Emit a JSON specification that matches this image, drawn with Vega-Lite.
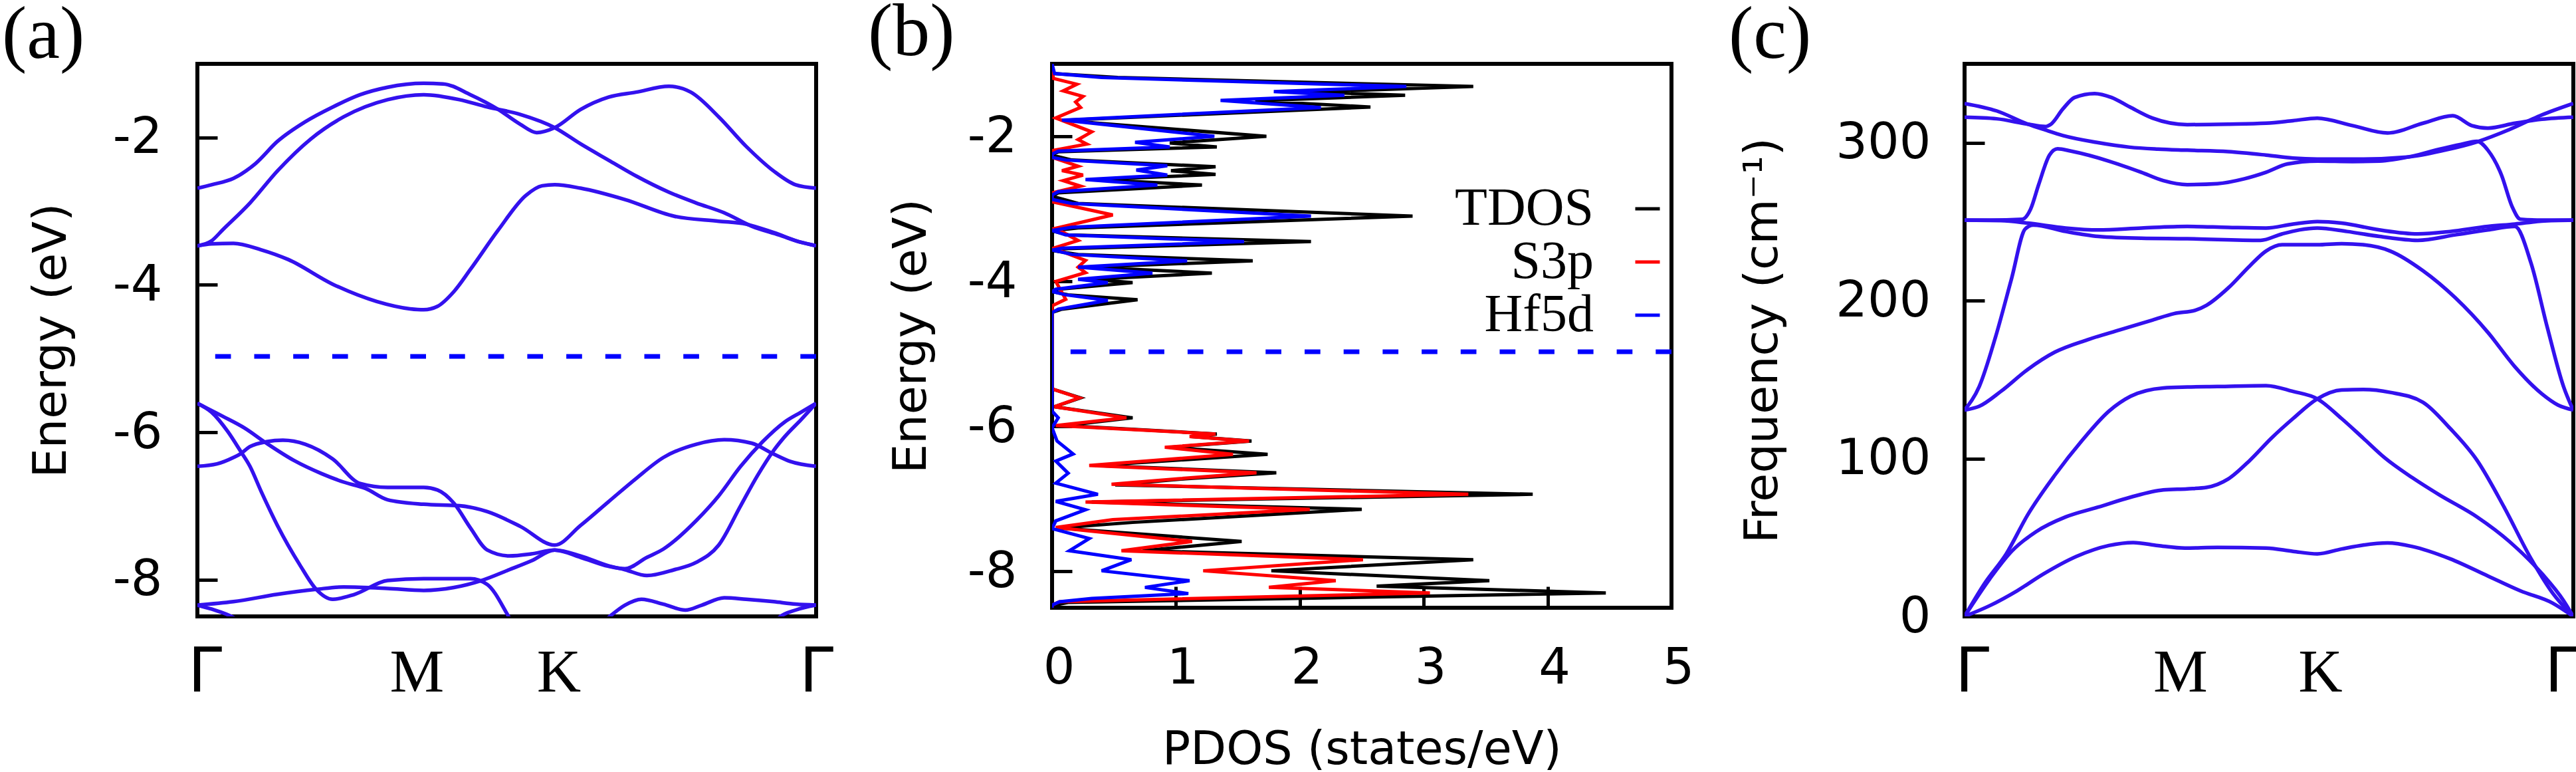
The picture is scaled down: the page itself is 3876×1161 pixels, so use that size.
{
"$schema": "https://vega.github.io/schema/vega-lite/v6.json",
"padding": {"top": -10, "left": 0, "right": 0, "bottom": 0},
"background": "white",
"spacing": 46,
"bounds": "full",
"resolve": {"scale": {"color": "independent"}, "legend": {"color": "independent"}},
"config": {
  "view": {"stroke": "black", "strokeWidth": 6},
  "axis": {"domain": false, "grid": false, "labelFont": "DejaVu Sans", "labelFontSize": 75, "labelColor": "black", "tickColor": "black", "tickWidth": 5, "titleFont": "DejaVu Sans", "titleFontSize": 70, "titleFontWeight": "normal", "titleColor": "black", "labelFlush": false, "labelOverlap": false},
  "title": {"font": "Liberation Serif", "fontSize": 112, "fontWeight": "normal", "anchor": "start", "frame": "group", "color": "black", "baseline": "alphabetic"}
},
"datasets": {
  "fermi": [{"E": -4.97}],
  "bands": [
{"b":"CA","k":0,"E":-2.688},{"b":"CA","k":0.036,"E":-2.641},{"b":"CA","k":0.092,"E":-2.555},{"b":"CA","k":0.148,"E":-2.354},{"b":"CA","k":0.204,"E":-2.053},{"b":"CA","k":0.275,"E":-1.786},{"b":"CA","k":0.345,"E":-1.586},{"b":"CA","k":0.415,"E":-1.419},{"b":"CA","k":0.485,"E":-1.318},{"b":"CA","k":0.577,"E":-1.265},{"b":"CA","k":0.626,"E":-1.272},{"b":"CA","k":0.696,"E":-1.419},{"b":"CA","k":0.767,"E":-1.619},{"b":"CA","k":0.823,"E":-1.82},{"b":"CA","k":0.865,"E":-1.933},{"b":"CA","k":0.911,"E":-1.866},{"b":"CA","k":0.977,"E":-1.619},{"b":"CA","k":1.048,"E":-1.452},{"b":"CA","k":1.118,"E":-1.385},{"b":"CA","k":1.202,"E":-1.305},{"b":"CA","k":1.258,"E":-1.385},{"b":"CA","k":1.329,"E":-1.719},{"b":"CA","k":1.399,"E":-2.12},{"b":"CA","k":1.469,"E":-2.454},{"b":"CA","k":1.525,"E":-2.641},{"b":"CA","k":1.577,"E":-2.688},
{"b":"CB","k":0,"E":-3.47},{"b":"CB","k":0.036,"E":-3.403},{"b":"CB","k":0.064,"E":-3.256},{"b":"CB","k":0.134,"E":-2.889},{"b":"CB","k":0.204,"E":-2.454},{"b":"CB","k":0.289,"E":-2.02},{"b":"CB","k":0.373,"E":-1.719},{"b":"CB","k":0.485,"E":-1.486},{"b":"CB","k":0.577,"E":-1.419},{"b":"CB","k":0.668,"E":-1.486},{"b":"CB","k":0.739,"E":-1.586},{"b":"CB","k":0.823,"E":-1.686},{"b":"CB","k":0.911,"E":-1.866},{"b":"CB","k":0.977,"E":-2.087},{"b":"CB","k":1.048,"E":-2.307},{"b":"CB","k":1.118,"E":-2.521},{"b":"CB","k":1.202,"E":-2.742},{"b":"CB","k":1.272,"E":-2.889},{"b":"CB","k":1.343,"E":-3.022},{"b":"CB","k":1.413,"E":-3.203},{"b":"CB","k":1.483,"E":-3.323},{"b":"CB","k":1.539,"E":-3.423},{"b":"CB","k":1.577,"E":-3.47},
{"b":"C1","k":0,"E":-3.47},{"b":"C1","k":0.036,"E":-3.443},{"b":"C1","k":0.092,"E":-3.436},{"b":"C1","k":0.162,"E":-3.523},{"b":"C1","k":0.232,"E":-3.657},{"b":"C1","k":0.345,"E":-3.991},{"b":"C1","k":0.457,"E":-4.225},{"b":"C1","k":0.542,"E":-4.325},{"b":"C1","k":0.577,"E":-4.338},{"b":"C1","k":0.612,"E":-4.292},{"b":"C1","k":0.654,"E":-4.091},{"b":"C1","k":0.696,"E":-3.791},{"b":"C1","k":0.767,"E":-3.256},{"b":"C1","k":0.837,"E":-2.788},{"b":"C1","k":0.879,"E":-2.655},{"b":"C1","k":0.911,"E":-2.641},{"b":"C1","k":0.977,"E":-2.688},{"b":"C1","k":1.09,"E":-2.842},{"b":"C1","k":1.216,"E":-3.069},{"b":"C1","k":1.329,"E":-3.136},{"b":"C1","k":1.399,"E":-3.176},{"b":"C1","k":1.469,"E":-3.29},{"b":"C1","k":1.539,"E":-3.423},{"b":"C1","k":1.577,"E":-3.47},
{"b":"V1","k":0,"E":-5.608},{"b":"V1","k":0.036,"E":-5.728},{"b":"V1","k":0.078,"E":-5.995},{"b":"V1","k":0.109,"E":-6.249},{"b":"V1","k":0.134,"E":-6.463},{"b":"V1","k":0.162,"E":-6.797},{"b":"V1","k":0.204,"E":-7.265},{"b":"V1","k":0.261,"E":-7.799},{"b":"V1","k":0.303,"E":-8.133},{"b":"V1","k":0.345,"E":-8.267},{"b":"V1","k":0.401,"E":-8.2},{"b":"V1","k":0.485,"E":-8.013},{"b":"V1","k":0.577,"E":-7.987},{"b":"V1","k":0.696,"E":-7.987},{"b":"V1","k":0.739,"E":-8.067},{"b":"V1","k":0.795,"E":-8.514},{"b":"V1","k":0.816,"E":-8.701},
{"b":"V2","k":0,"E":-6.463},{"b":"V2","k":0.05,"E":-6.43},{"b":"V2","k":0.092,"E":-6.343},{"b":"V2","k":0.109,"E":-6.296},{"b":"V2","k":0.134,"E":-6.196},{"b":"V2","k":0.176,"E":-6.129},{"b":"V2","k":0.218,"E":-6.109},{"b":"V2","k":0.275,"E":-6.163},{"b":"V2","k":0.345,"E":-6.363},{"b":"V2","k":0.415,"E":-6.697},{"b":"V2","k":0.485,"E":-6.75},{"b":"V2","k":0.577,"E":-6.75},{"b":"V2","k":0.612,"E":-6.784},{"b":"V2","k":0.654,"E":-6.964},{"b":"V2","k":0.696,"E":-7.298},{"b":"V2","k":0.739,"E":-7.599},{"b":"V2","k":0.795,"E":-7.679},{"b":"V2","k":0.851,"E":-7.652},{"b":"V2","k":0.911,"E":-7.599},{"b":"V2","k":0.977,"E":-7.679},{"b":"V2","k":1.048,"E":-7.813},{"b":"V2","k":1.09,"E":-7.866},{"b":"V2","k":1.146,"E":-7.946},{"b":"V2","k":1.216,"E":-7.866},{"b":"V2","k":1.272,"E":-7.766},{"b":"V2","k":1.329,"E":-7.532},{"b":"V2","k":1.385,"E":-6.998},{"b":"V2","k":1.427,"E":-6.597},{"b":"V2","k":1.469,"E":-6.249},{"b":"V2","k":1.497,"E":-6.062},{"b":"V2","k":1.539,"E":-5.829},{"b":"V2","k":1.577,"E":-5.608},
{"b":"V3","k":0,"E":-5.608},{"b":"V3","k":0.064,"E":-5.782},{"b":"V3","k":0.12,"E":-5.942},{"b":"V3","k":0.176,"E":-6.149},{"b":"V3","k":0.246,"E":-6.383},{"b":"V3","k":0.317,"E":-6.563},{"b":"V3","k":0.373,"E":-6.677},{"b":"V3","k":0.429,"E":-6.764},{"b":"V3","k":0.485,"E":-6.917},{"b":"V3","k":0.577,"E":-6.978},{"b":"V3","k":0.668,"E":-6.998},{"b":"V3","k":0.739,"E":-7.078},{"b":"V3","k":0.823,"E":-7.278},{"b":"V3","k":0.911,"E":-7.532},{"b":"V3","k":0.977,"E":-7.265},{"b":"V3","k":1.048,"E":-6.944},{"b":"V3","k":1.118,"E":-6.63},{"b":"V3","k":1.188,"E":-6.343},{"b":"V3","k":1.272,"E":-6.163},{"b":"V3","k":1.343,"E":-6.102},{"b":"V3","k":1.413,"E":-6.149},{"b":"V3","k":1.469,"E":-6.296},{"b":"V3","k":1.511,"E":-6.396},{"b":"V3","k":1.577,"E":-6.463},
{"b":"V4","k":0,"E":-8.347},{"b":"V4","k":0.092,"E":-8.3},{"b":"V4","k":0.204,"E":-8.2},{"b":"V4","k":0.303,"E":-8.133},{"b":"V4","k":0.373,"E":-8.1},{"b":"V4","k":0.485,"E":-8.12},{"b":"V4","k":0.577,"E":-8.147},{"b":"V4","k":0.654,"E":-8.107},{"b":"V4","k":0.724,"E":-8.013},{"b":"V4","k":0.795,"E":-7.866},{"b":"V4","k":0.851,"E":-7.746},{"b":"V4","k":0.911,"E":-7.599},{"b":"V4","k":0.977,"E":-7.699},{"b":"V4","k":1.048,"E":-7.82},{"b":"V4","k":1.09,"E":-7.853},{"b":"V4","k":1.146,"E":-7.699},{"b":"V4","k":1.188,"E":-7.586},{"b":"V4","k":1.272,"E":-7.198},{"b":"V4","k":1.329,"E":-6.864},{"b":"V4","k":1.385,"E":-6.463},{"b":"V4","k":1.441,"E":-6.129},{"b":"V4","k":1.497,"E":-5.862},{"b":"V4","k":1.539,"E":-5.728},{"b":"V4","k":1.577,"E":-5.608},
{"b":"V5","k":0,"E":-8.347},{"b":"V5","k":0.036,"E":-8.4},{"b":"V5","k":0.092,"E":-8.514},{"b":"V5","k":0.127,"E":-8.634},
{"b":"V6","k":1.021,"E":-8.634},{"b":"V6","k":1.048,"E":-8.514},{"b":"V6","k":1.09,"E":-8.347},{"b":"V6","k":1.132,"E":-8.267},{"b":"V6","k":1.188,"E":-8.334},{"b":"V6","k":1.244,"E":-8.414},{"b":"V6","k":1.286,"E":-8.347},{"b":"V6","k":1.343,"E":-8.247},{"b":"V6","k":1.399,"E":-8.267},{"b":"V6","k":1.469,"E":-8.3},{"b":"V6","k":1.525,"E":-8.334},{"b":"V6","k":1.577,"E":-8.347},
{"b":"V7","k":1.462,"E":-8.634},{"b":"V7","k":1.483,"E":-8.514},{"b":"V7","k":1.525,"E":-8.414},{"b":"V7","k":1.577,"E":-8.347}
  ],
  "dos": [
{"s":"TDOS","E":-1.0,"d":0},{"s":"TDOS","E":-1.134,"d":0},{"s":"TDOS","E":-1.189,"d":0.53},{"s":"TDOS","E":-1.312,"d":3.4},{"s":"TDOS","E":-1.388,"d":2.08},{"s":"TDOS","E":-1.434,"d":2.85},{"s":"TDOS","E":-1.51,"d":1.64},{"s":"TDOS","E":-1.596,"d":2.57},{"s":"TDOS","E":-1.776,"d":0.11},{"s":"TDOS","E":-1.816,"d":0.35},{"s":"TDOS","E":-2.0,"d":1.73},{"s":"TDOS","E":-2.091,"d":0.95},{"s":"TDOS","E":-2.146,"d":1.33},{"s":"TDOS","E":-2.213,"d":0.05},{"s":"TDOS","E":-2.259,"d":0},{"s":"TDOS","E":-2.326,"d":0.16},{"s":"TDOS","E":-2.418,"d":1.32},{"s":"TDOS","E":-2.473,"d":0.96},{"s":"TDOS","E":-2.525,"d":1.32},{"s":"TDOS","E":-2.595,"d":0.35},{"s":"TDOS","E":-2.672,"d":1.21},{"s":"TDOS","E":-2.779,"d":0.05},{"s":"TDOS","E":-2.825,"d":0},{"s":"TDOS","E":-2.925,"d":0.21},{"s":"TDOS","E":-3.1,"d":2.91},{"s":"TDOS","E":-3.262,"d":0.21},{"s":"TDOS","E":-3.304,"d":0},{"s":"TDOS","E":-3.359,"d":0.13},{"s":"TDOS","E":-3.451,"d":2.09},{"s":"TDOS","E":-3.549,"d":0.11},{"s":"TDOS","E":-3.573,"d":0},{"s":"TDOS","E":-3.628,"d":0.21},{"s":"TDOS","E":-3.717,"d":1.62},{"s":"TDOS","E":-3.803,"d":0.29},{"s":"TDOS","E":-3.885,"d":1.29},{"s":"TDOS","E":-3.971,"d":0.32},{"s":"TDOS","E":-4.017,"d":0.65},{"s":"TDOS","E":-4.108,"d":0.05},{"s":"TDOS","E":-4.139,"d":0},{"s":"TDOS","E":-4.185,"d":0.13},{"s":"TDOS","E":-4.252,"d":0.69},{"s":"TDOS","E":-4.383,"d":0.08},{"s":"TDOS","E":-4.429,"d":0},{"s":"TDOS","E":-5.483,"d":0},{"s":"TDOS","E":-5.606,"d":0.23},{"s":"TDOS","E":-5.728,"d":0.02},{"s":"TDOS","E":-5.881,"d":0.65},{"s":"TDOS","E":-5.988,"d":0.1},{"s":"TDOS","E":-6.104,"d":1.33},{"s":"TDOS","E":-6.14,"d":1.12},{"s":"TDOS","E":-6.202,"d":1.61},{"s":"TDOS","E":-6.287,"d":0.95},{"s":"TDOS","E":-6.385,"d":1.74},{"s":"TDOS","E":-6.538,"d":0.35},{"s":"TDOS","E":-6.639,"d":1.81},{"s":"TDOS","E":-6.721,"d":1.08},{"s":"TDOS","E":-6.807,"d":0.51},{"s":"TDOS","E":-6.935,"d":3.88},{"s":"TDOS","E":-7.042,"d":0.32},{"s":"TDOS","E":-7.143,"d":2.5},{"s":"TDOS","E":-7.323,"d":0.65},{"s":"TDOS","E":-7.4,"d":0.05},{"s":"TDOS","E":-7.586,"d":1.53},{"s":"TDOS","E":-7.714,"d":0.73},{"s":"TDOS","E":-7.837,"d":3.4},{"s":"TDOS","E":-7.99,"d":1.77},{"s":"TDOS","E":-8.127,"d":3.53},{"s":"TDOS","E":-8.203,"d":2.62},{"s":"TDOS","E":-8.295,"d":4.47},{"s":"TDOS","E":-8.426,"d":0.13},{"s":"TDOS","E":-8.47,"d":0},{"s":"TDOS","E":-8.5,"d":0},
{"s":"S3p","E":-1.0,"d":0},{"s":"S3p","E":-1.2,"d":0.01},{"s":"S3p","E":-1.281,"d":0.2},{"s":"S3p","E":-1.373,"d":0.09},{"s":"S3p","E":-1.449,"d":0.25},{"s":"S3p","E":-1.526,"d":0.19},{"s":"S3p","E":-1.602,"d":0.23},{"s":"S3p","E":-1.746,"d":0.03},{"s":"S3p","E":-1.938,"d":0.32},{"s":"S3p","E":-2.045,"d":0.21},{"s":"S3p","E":-2.106,"d":0.28},{"s":"S3p","E":-2.198,"d":0},{"s":"S3p","E":-2.29,"d":0},{"s":"S3p","E":-2.412,"d":0.21},{"s":"S3p","E":-2.473,"d":0.08},{"s":"S3p","E":-2.534,"d":0.25},{"s":"S3p","E":-2.611,"d":0.09},{"s":"S3p","E":-2.687,"d":0.23},{"s":"S3p","E":-2.779,"d":0},{"s":"S3p","E":-2.901,"d":0},{"s":"S3p","E":-3.084,"d":0.49},{"s":"S3p","E":-3.268,"d":0.03},{"s":"S3p","E":-3.436,"d":0.21},{"s":"S3p","E":-3.543,"d":0.01},{"s":"S3p","E":-3.711,"d":0.27},{"s":"S3p","E":-3.803,"d":0.21},{"s":"S3p","E":-3.879,"d":0.27},{"s":"S3p","E":-4.001,"d":0.03},{"s":"S3p","E":-4.246,"d":0.11},{"s":"S3p","E":-4.337,"d":0},{"s":"S3p","E":-5.483,"d":0},{"s":"S3p","E":-5.606,"d":0.22},{"s":"S3p","E":-5.728,"d":0.02},{"s":"S3p","E":-5.881,"d":0.6},{"s":"S3p","E":-5.988,"d":0.03},{"s":"S3p","E":-6.104,"d":1.32},{"s":"S3p","E":-6.14,"d":1.11},{"s":"S3p","E":-6.202,"d":1.59},{"s":"S3p","E":-6.287,"d":0.91},{"s":"S3p","E":-6.385,"d":1.46},{"s":"S3p","E":-6.538,"d":0.3},{"s":"S3p","E":-6.639,"d":1.65},{"s":"S3p","E":-6.721,"d":1.02},{"s":"S3p","E":-6.797,"d":0.48},{"s":"S3p","E":-6.935,"d":3.36},{"s":"S3p","E":-7.042,"d":0.27},{"s":"S3p","E":-7.143,"d":2.08},{"s":"S3p","E":-7.286,"d":0.49},{"s":"S3p","E":-7.393,"d":0.03},{"s":"S3p","E":-7.586,"d":1.13},{"s":"S3p","E":-7.714,"d":0.56},{"s":"S3p","E":-7.837,"d":2.51},{"s":"S3p","E":-7.99,"d":1.22},{"s":"S3p","E":-8.127,"d":2.29},{"s":"S3p","E":-8.219,"d":1.75},{"s":"S3p","E":-8.295,"d":3.05},{"s":"S3p","E":-8.417,"d":0.06},{"s":"S3p","E":-8.463,"d":0},{"s":"S3p","E":-8.5,"d":0},
{"s":"Hf5d","E":-1.0,"d":0},{"s":"Hf5d","E":-1.134,"d":0.02},{"s":"Hf5d","E":-1.189,"d":0.4},{"s":"Hf5d","E":-1.312,"d":2.86},{"s":"Hf5d","E":-1.382,"d":1.79},{"s":"Hf5d","E":-1.434,"d":2.36},{"s":"Hf5d","E":-1.504,"d":1.36},{"s":"Hf5d","E":-1.602,"d":2.17},{"s":"Hf5d","E":-1.776,"d":0.08},{"s":"Hf5d","E":-1.81,"d":0.27},{"s":"Hf5d","E":-2.0,"d":1.31},{"s":"Hf5d","E":-2.082,"d":0.67},{"s":"Hf5d","E":-2.146,"d":0.95},{"s":"Hf5d","E":-2.204,"d":0.05},{"s":"Hf5d","E":-2.244,"d":0},{"s":"Hf5d","E":-2.29,"d":0},{"s":"Hf5d","E":-2.326,"d":0.11},{"s":"Hf5d","E":-2.406,"d":0.93},{"s":"Hf5d","E":-2.464,"d":0.68},{"s":"Hf5d","E":-2.534,"d":0.93},{"s":"Hf5d","E":-2.595,"d":0.27},{"s":"Hf5d","E":-2.672,"d":0.85},{"s":"Hf5d","E":-2.763,"d":0.05},{"s":"Hf5d","E":-2.81,"d":0},{"s":"Hf5d","E":-2.87,"d":0},{"s":"Hf5d","E":-2.925,"d":0.16},{"s":"Hf5d","E":-3.1,"d":2.09},{"s":"Hf5d","E":-3.253,"d":0.16},{"s":"Hf5d","E":-3.298,"d":0},{"s":"Hf5d","E":-3.359,"d":0.11},{"s":"Hf5d","E":-3.451,"d":1.55},{"s":"Hf5d","E":-3.543,"d":0.08},{"s":"Hf5d","E":-3.567,"d":0},{"s":"Hf5d","E":-3.628,"d":0.16},{"s":"Hf5d","E":-3.717,"d":1.09},{"s":"Hf5d","E":-3.803,"d":0.21},{"s":"Hf5d","E":-3.885,"d":0.81},{"s":"Hf5d","E":-3.971,"d":0.21},{"s":"Hf5d","E":-4.017,"d":0.45},{"s":"Hf5d","E":-4.108,"d":0.03},{"s":"Hf5d","E":-4.139,"d":0},{"s":"Hf5d","E":-4.185,"d":0.11},{"s":"Hf5d","E":-4.261,"d":0.45},{"s":"Hf5d","E":-4.383,"d":0.05},{"s":"Hf5d","E":-4.429,"d":0},{"s":"Hf5d","E":-5.789,"d":0},{"s":"Hf5d","E":-5.881,"d":0.05},{"s":"Hf5d","E":-6.018,"d":0},{"s":"Hf5d","E":-6.2,"d":0.04},{"s":"Hf5d","E":-6.379,"d":0.17},{"s":"Hf5d","E":-6.477,"d":0.03},{"s":"Hf5d","E":-6.645,"d":0.13},{"s":"Hf5d","E":-6.782,"d":0.03},{"s":"Hf5d","E":-6.935,"d":0.37},{"s":"Hf5d","E":-7.033,"d":0.03},{"s":"Hf5d","E":-7.149,"d":0.27},{"s":"Hf5d","E":-7.302,"d":0.03},{"s":"Hf5d","E":-7.409,"d":0},{"s":"Hf5d","E":-7.546,"d":0.3},{"s":"Hf5d","E":-7.714,"d":0.14},{"s":"Hf5d","E":-7.837,"d":0.64},{"s":"Hf5d","E":-7.99,"d":0.4},{"s":"Hf5d","E":-8.127,"d":1.11},{"s":"Hf5d","E":-8.219,"d":0.75},{"s":"Hf5d","E":-8.304,"d":1.1},{"s":"Hf5d","E":-8.371,"d":0.32},{"s":"Hf5d","E":-8.417,"d":0.06},{"s":"Hf5d","E":-8.463,"d":0},{"s":"Hf5d","E":-8.5,"d":0}
  ],
  "phonon": [
{"p":"B1","k":0,"f":0},{"p":"B1","k":0.066,"f":6.9},{"p":"B1","k":0.136,"f":16.2},{"p":"B1","k":0.206,"f":27.1},{"p":"B1","k":0.29,"f":38.0},{"p":"B1","k":0.374,"f":44.9},{"p":"B1","k":0.437,"f":46.8},{"p":"B1","k":0.501,"f":44.9},{"p":"B1","k":0.571,"f":43.3},{"p":"B1","k":0.655,"f":43.7},{"p":"B1","k":0.781,"f":43.3},{"p":"B1","k":0.851,"f":41.2},{"p":"B1","k":0.914,"f":39.6},{"p":"B1","k":0.977,"f":42.7},{"p":"B1","k":1.033,"f":45.2},{"p":"B1","k":1.096,"f":46.5},{"p":"B1","k":1.16,"f":44.3},{"p":"B1","k":1.258,"f":36.5},{"p":"B1","k":1.356,"f":25.6},{"p":"B1","k":1.44,"f":16.2},{"p":"B1","k":1.524,"f":8.4},{"p":"B1","k":1.577,"f":0},
{"p":"B2","k":0,"f":0},{"p":"B2","k":0.066,"f":24.0},{"p":"B2","k":0.122,"f":41.2},{"p":"B2","k":0.185,"f":53.6},{"p":"B2","k":0.262,"f":63.0},{"p":"B2","k":0.346,"f":69.2},{"p":"B2","k":0.43,"f":75.5},{"p":"B2","k":0.515,"f":80.1},{"p":"B2","k":0.577,"f":80.8},{"p":"B2","k":0.627,"f":81.7},{"p":"B2","k":0.683,"f":87.0},{"p":"B2","k":0.739,"f":98.8},{"p":"B2","k":0.795,"f":112.9},{"p":"B2","k":0.851,"f":125.3},{"p":"B2","k":0.914,"f":137.8},{"p":"B2","k":0.977,"f":143.4},{"p":"B2","k":1.033,"f":143.7},{"p":"B2","k":1.103,"f":141.9},{"p":"B2","k":1.188,"f":135.6},{"p":"B2","k":1.258,"f":119.1},{"p":"B2","k":1.328,"f":98.8},{"p":"B2","k":1.398,"f":69.2},{"p":"B2","k":1.468,"f":36.5},{"p":"B2","k":1.524,"f":14.7},{"p":"B2","k":1.577,"f":0},
{"p":"B3","k":0,"f":0},{"p":"B3","k":0.052,"f":20.9},{"p":"B3","k":0.108,"f":39.6},{"p":"B3","k":0.164,"f":64.5},{"p":"B3","k":0.234,"f":89.5},{"p":"B3","k":0.304,"f":111.3},{"p":"B3","k":0.374,"f":130.0},{"p":"B3","k":0.43,"f":139.4},{"p":"B3","k":0.515,"f":144.7},{"p":"B3","k":0.577,"f":145.3},{"p":"B3","k":0.655,"f":145.6},{"p":"B3","k":0.781,"f":146.2},{"p":"B3","k":0.851,"f":142.5},{"p":"B3","k":0.914,"f":137.8},{"p":"B3","k":0.977,"f":125.3},{"p":"B3","k":1.033,"f":112.9},{"p":"B3","k":1.089,"f":100.4},{"p":"B3","k":1.16,"f":87.9},{"p":"B3","k":1.23,"f":77.0},{"p":"B3","k":1.328,"f":63.0},{"p":"B3","k":1.412,"f":47.4},{"p":"B3","k":1.496,"f":27.1},{"p":"B3","k":1.552,"f":10.0},{"p":"B3","k":1.577,"f":0},
{"p":"B4","k":0,"f":130.7},{"p":"B4","k":0.038,"f":133.1},{"p":"B4","k":0.094,"f":142.5},{"p":"B4","k":0.164,"f":156.5},{"p":"B4","k":0.234,"f":167.4},{"p":"B4","k":0.318,"f":175.2},{"p":"B4","k":0.402,"f":181.5},{"p":"B4","k":0.487,"f":187.7},{"p":"B4","k":0.543,"f":191.8},{"p":"B4","k":0.599,"f":194.0},{"p":"B4","k":0.627,"f":197.1},{"p":"B4","k":0.683,"f":208.0},{"p":"B4","k":0.739,"f":222.0},{"p":"B4","k":0.781,"f":231.4},{"p":"B4","k":0.823,"f":235.4},{"p":"B4","k":0.914,"f":235.4},{"p":"B4","k":0.977,"f":236.1},{"p":"B4","k":1.033,"f":235.4},{"p":"B4","k":1.103,"f":231.4},{"p":"B4","k":1.188,"f":218.9},{"p":"B4","k":1.272,"f":201.7},{"p":"B4","k":1.356,"f":179.9},{"p":"B4","k":1.426,"f":158.1},{"p":"B4","k":1.496,"f":140.9},{"p":"B4","k":1.538,"f":133.8},{"p":"B4","k":1.577,"f":130.7},
{"p":"B5","k":0,"f":130.7},{"p":"B5","k":0.038,"f":145.6},{"p":"B5","k":0.08,"f":176.8},{"p":"B5","k":0.122,"f":214.2},{"p":"B5","k":0.157,"f":245.4},{"p":"B5","k":0.178,"f":247.9},{"p":"B5","k":0.262,"f":243.8},{"p":"B5","k":0.346,"f":240.7},{"p":"B5","k":0.458,"f":239.5},{"p":"B5","k":0.577,"f":239.2},{"p":"B5","k":0.767,"f":238.2},{"p":"B5","k":0.823,"f":242.3},{"p":"B5","k":0.914,"f":246.0},{"p":"B5","k":0.991,"f":243.8},{"p":"B5","k":1.075,"f":240.7},{"p":"B5","k":1.174,"f":238.2},{"p":"B5","k":1.272,"f":241.7},{"p":"B5","k":1.356,"f":244.8},{"p":"B5","k":1.426,"f":247.0},{"p":"B5","k":1.468,"f":223.6},{"p":"B5","k":1.51,"f":183.0},{"p":"B5","k":1.552,"f":145.6},{"p":"B5","k":1.577,"f":130.7},
{"p":"B6","k":0,"f":251.0},{"p":"B6","k":0.094,"f":250.7},{"p":"B6","k":0.164,"f":249.1},{"p":"B6","k":0.262,"f":246.0},{"p":"B6","k":0.346,"f":244.8},{"p":"B6","k":0.458,"f":246.0},{"p":"B6","k":0.577,"f":247.0},{"p":"B6","k":0.683,"f":246.4},{"p":"B6","k":0.781,"f":246.0},{"p":"B6","k":0.851,"f":248.5},{"p":"B6","k":0.914,"f":250.1},{"p":"B6","k":0.977,"f":249.1},{"p":"B6","k":1.075,"f":244.8},{"p":"B6","k":1.174,"f":242.3},{"p":"B6","k":1.258,"f":243.8},{"p":"B6","k":1.356,"f":247.0},{"p":"B6","k":1.426,"f":248.5},{"p":"B6","k":1.496,"f":250.4},{"p":"B6","k":1.577,"f":251.0},
{"p":"B7","k":0,"f":251.0},{"p":"B7","k":0.066,"f":251.0},{"p":"B7","k":0.15,"f":251.6},{"p":"B7","k":0.171,"f":257.9},{"p":"B7","k":0.192,"f":273.5},{"p":"B7","k":0.22,"f":292.2},{"p":"B7","k":0.241,"f":296.2},{"p":"B7","k":0.276,"f":294.7},{"p":"B7","k":0.374,"f":288.4},{"p":"B7","k":0.458,"f":281.3},{"p":"B7","k":0.515,"f":276.0},{"p":"B7","k":0.577,"f":273.5},{"p":"B7","k":0.655,"f":274.1},{"p":"B7","k":0.725,"f":277.2},{"p":"B7","k":0.781,"f":281.3},{"p":"B7","k":0.837,"f":286.6},{"p":"B7","k":0.914,"f":288.4},{"p":"B7","k":1.005,"f":288.1},{"p":"B7","k":1.075,"f":288.4},{"p":"B7","k":1.16,"f":291.5},{"p":"B7","k":1.23,"f":295.9},{"p":"B7","k":1.286,"f":299.0},{"p":"B7","k":1.328,"f":300.9},{"p":"B7","k":1.356,"f":295.3},{"p":"B7","k":1.391,"f":279.7},{"p":"B7","k":1.419,"f":259.4},{"p":"B7","k":1.44,"f":251.6},{"p":"B7","k":1.496,"f":251.0},{"p":"B7","k":1.577,"f":251.0},
{"p":"B8","k":0,"f":324.9},{"p":"B8","k":0.083,"f":320.2},{"p":"B8","k":0.164,"f":311.8},{"p":"B8","k":0.209,"f":308.1},{"p":"B8","k":0.255,"f":304.6},{"p":"B8","k":0.341,"f":300.3},{"p":"B8","k":0.428,"f":297.2},{"p":"B8","k":0.501,"f":296.0},{"p":"B8","k":0.577,"f":295.3},{"p":"B8","k":0.683,"f":294.4},{"p":"B8","k":0.781,"f":292.2},{"p":"B8","k":0.851,"f":290.3},{"p":"B8","k":0.914,"f":289.7},{"p":"B8","k":1.033,"f":289.7},{"p":"B8","k":1.146,"f":290.9},{"p":"B8","k":1.244,"f":295.3},{"p":"B8","k":1.328,"f":300.6},{"p":"B8","k":1.412,"f":308.4},{"p":"B8","k":1.496,"f":317.7},{"p":"B8","k":1.577,"f":324.9},
{"p":"B9","k":0,"f":316.2},{"p":"B9","k":0.083,"f":315.2},{"p":"B9","k":0.164,"f":311.8},{"p":"B9","k":0.209,"f":310.3},{"p":"B9","k":0.224,"f":311.8},{"p":"B9","k":0.255,"f":321.5},{"p":"B9","k":0.285,"f":328.7},{"p":"B9","k":0.337,"f":331.2},{"p":"B9","k":0.381,"f":328.7},{"p":"B9","k":0.428,"f":322.7},{"p":"B9","k":0.487,"f":315.6},{"p":"B9","k":0.577,"f":311.5},{"p":"B9","k":0.683,"f":311.8},{"p":"B9","k":0.781,"f":312.4},{"p":"B9","k":0.851,"f":314.0},{"p":"B9","k":0.914,"f":315.6},{"p":"B9","k":1.005,"f":310.9},{"p":"B9","k":1.096,"f":306.2},{"p":"B9","k":1.188,"f":312.4},{"p":"B9","k":1.265,"f":317.1},{"p":"B9","k":1.314,"f":310.9},{"p":"B9","k":1.356,"f":309.3},{"p":"B9","k":1.426,"f":312.4},{"p":"B9","k":1.496,"f":314.9},{"p":"B9","k":1.577,"f":316.2}
  ]
},
"hconcat": [
  {
    "width": 931, "height": 831,
    "title": {"text": "(a)", "dx": -294, "offset": -15},
    "layer": [
      {
        "data": {"name": "bands"},
        "mark": {"type": "line", "stroke": "#3311ee", "strokeWidth": 5.5, "clip": true, "interpolate": "monotone"},
        "encoding": {
          "x": {"field": "k", "type": "quantitative", "scale": {"domain": [0, 1.5774], "nice": false, "zero": false},
                "axis": {"values": [0, 0.5774, 0.9107, 1.5774], "ticks": false, "title": null, "labelFontSize": 92, "labelPadding": 39,
                         "labelExpr": "datum.value < 0.1 ? 'Γ' : datum.value < 0.7 ? 'M' : datum.value < 1.2 ? 'K' : 'Γ'",
                         "labelOffset": {"condition": [{"test": "datum.value < 0.1", "value": 11}, {"test": "datum.value < 0.7", "value": -11}, {"test": "datum.value < 1.2", "value": 6}], "value": 0},
                         "labelFont": {"condition": {"test": "datum.value < 0.1 || datum.value > 1.5", "value": "DejaVu Sans"}, "value": "Liberation Serif"}}},
          "y": {"field": "E", "type": "quantitative", "scale": {"domain": [-8.5, -1], "nice": false, "zero": false},
                "axis": {"values": [-8, -6, -4, -2], "tickSize": -30, "labelPadding": 83, "labelExpr": "'' + datum.value", "title": "Energy (eV)", "titlePadding": 56}},
          "detail": {"field": "b"},
          "order": {"field": "k"}
        }
      },
      {
        "data": {"name": "fermi"},
        "mark": {"type": "rule", "stroke": "#0000ff", "strokeWidth": 7, "strokeDash": [23.7, 35]},
        "encoding": {"y": {"field": "E", "type": "quantitative"}}
      }
    ]
  },
  {
    "width": 932, "height": 818,
    "title": {"text": "(b)", "dx": -277, "offset": -11},
    "layer": [
      {
        "data": {"name": "dos"},
        "mark": {"type": "line", "strokeWidth": 5, "clip": true},
        "encoding": {
          "x": {"field": "d", "type": "quantitative", "scale": {"domain": [0, 5], "nice": false, "zero": false},
                "axis": {"values": [0, 1, 2, 3, 4, 5], "tickSize": -32, "labelPadding": 86, "labelOffset": 10, "title": "PDOS (states/eV)", "titlePadding": 51}},
          "y": {"field": "E", "type": "quantitative", "scale": {"domain": [-8.5, -1], "nice": false, "zero": false},
                "axis": {"values": [-8, -6, -4, -2], "tickSize": -30, "labelPadding": 83, "labelExpr": "'' + datum.value", "title": "Energy (eV)", "titlePadding": 48}},
          "color": {"field": "s", "type": "nominal", "scale": {"domain": ["TDOS", "S3p", "Hf5d"], "range": ["#000000", "#ff0000", "#0000ff"]},
                    "legend": {"orient": "none", "legendX": 856, "legendY": 178, "title": null, "symbolType": "stroke", "symbolSize": 1369, "symbolStrokeWidth": 5, "labelFont": "Liberation Serif", "labelFontSize": 80, "labelColor": "black", "labelAlign": "right", "labelOffset": -121, "rowPadding": -3, "padding": 0, "labelLimit": 0}},
          "order": {"field": "E"}
        }
      },
      {
        "data": {"name": "fermi"},
        "mark": {"type": "rule", "stroke": "#0000ff", "strokeWidth": 7, "strokeDash": [23.7, 35]},
        "encoding": {"y": {"field": "E", "type": "quantitative"}}
      }
    ]
  },
  {
    "width": 916, "height": 831,
    "title": {"text": "(c)", "dx": -355, "offset": -15},
    "data": {"name": "phonon"},
    "mark": {"type": "line", "stroke": "#3311ee", "strokeWidth": 5.5, "clip": true, "interpolate": "monotone"},
    "encoding": {
      "x": {"field": "k", "type": "quantitative", "scale": {"domain": [0, 1.5774], "nice": false, "zero": false},
            "axis": {"values": [0, 0.5774, 0.9107, 1.5774], "ticks": false, "title": null, "labelFontSize": 92, "labelPadding": 39,
                     "labelExpr": "datum.value < 0.1 ? 'Γ' : datum.value < 0.7 ? 'M' : datum.value < 1.2 ? 'K' : 'Γ'",
                     "labelOffset": {"condition": [{"test": "datum.value < 0.1", "value": 11}, {"test": "datum.value < 0.7", "value": -11}, {"test": "datum.value < 1.2", "value": 6}], "value": -18},
                     "labelFont": {"condition": {"test": "datum.value < 0.1 || datum.value > 1.5", "value": "DejaVu Sans"}, "value": "Liberation Serif"}}},
      "y": {"field": "f", "type": "quantitative", "scale": {"domain": [0, 350], "nice": false, "zero": false},
            "axis": {"values": [0, 100, 200, 300], "tickSize": -30, "labelPadding": 81, "title": "Frequency (cm⁻¹)", "titlePadding": 73}},
      "detail": {"field": "p"},
      "order": {"field": "k"}
    }
  }
]
}
